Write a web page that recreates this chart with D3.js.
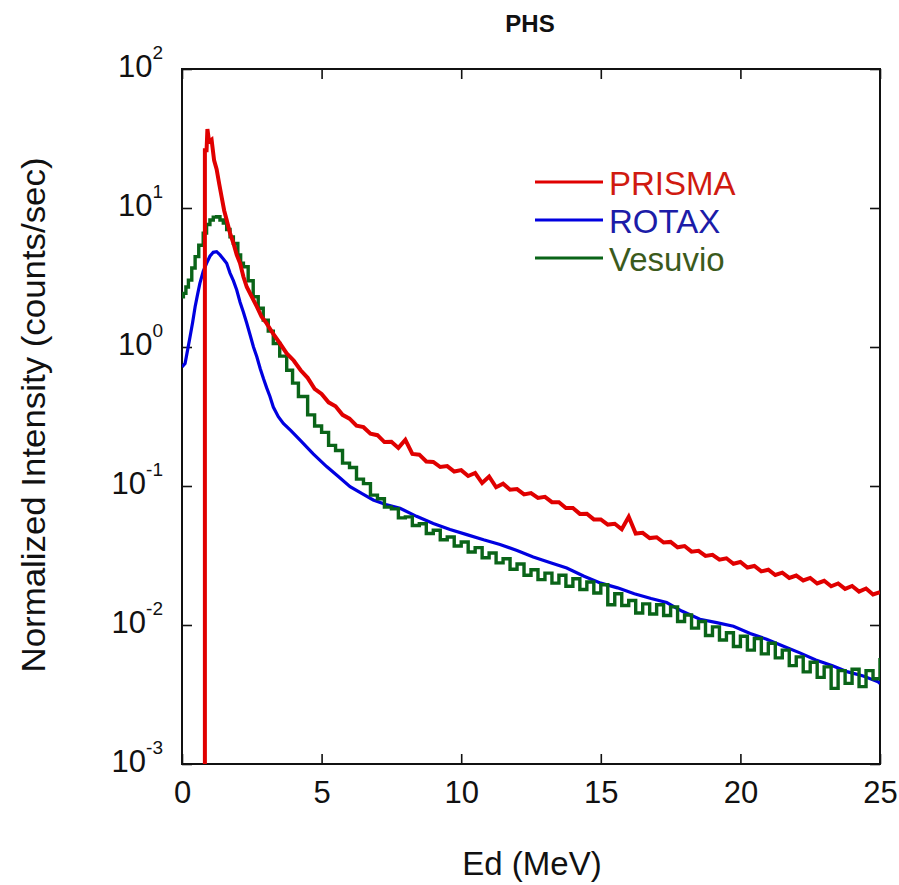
<!DOCTYPE html>
<html>
<head>
<meta charset="utf-8">
<script src="https://cdn.jsdelivr.net/npm/d3@7/dist/d3.min.js"></script>
<style>
  body { margin: 0; background: #fff; }
  text { font-family: Arial, "Liberation Sans", sans-serif; }
</style>
</head>
<body>
<div id="chart"></div>
<script>
// PRISMA (E in MeV, intensity in counts/sec), first point sits below the axis
const prisma = [
  [0.82, 0.0001], [0.82, 26], [0.88, 26], [0.91, 37], [0.97, 30], [1.06, 31], [1.15, 22],
  [1.24, 19], [1.33, 15], [1.42, 12], [1.51, 9.6], [1.6, 8.2], [1.72, 6.6], [1.84, 5.6],
  [1.96, 4.6], [2.08, 4.0], [2.2, 3.2], [2.32, 2.7], [2.5, 2.3], [2.68, 1.95], [2.85, 1.65],
  [3.03, 1.48], [3.27, 1.24], [3.51, 1.06], [3.75, 0.9], [4.0, 0.8], [4.25, 0.68],
  [4.5, 0.6], [4.75, 0.5], [5.0, 0.46], [5.25, 0.4], [5.5, 0.375], [5.75, 0.325],
  [6.0, 0.305], [6.25, 0.272], [6.5, 0.265], [6.75, 0.238], [7.0, 0.232], [7.25, 0.207],
  [7.5, 0.208], [7.75, 0.188], [8.0, 0.215], [8.25, 0.17], [8.5, 0.168], [8.75, 0.15],
  [9.0, 0.149], [9.25, 0.137], [9.5, 0.139], [9.75, 0.127], [10.0, 0.13], [10.25, 0.118],
  [10.5, 0.124], [10.75, 0.105], [11.0, 0.117], [11.25, 0.098], [11.5, 0.104], [11.75, 0.094],
  [12.0, 0.095], [12.25, 0.087], [12.5, 0.089], [12.75, 0.082], [13.0, 0.0835], [13.25, 0.0765],
  [13.5, 0.0765], [13.75, 0.0695], [14.0, 0.0695], [14.25, 0.063], [14.5, 0.0632], [14.75, 0.0575],
  [15.0, 0.0575], [15.25, 0.0528], [15.5, 0.0535], [15.75, 0.0488], [16.0, 0.06], [16.25, 0.0455],
  [16.5, 0.046], [16.75, 0.0422], [17.0, 0.0428], [17.25, 0.0392], [17.5, 0.0396], [17.75, 0.0362],
  [18.0, 0.037], [18.25, 0.0337], [18.5, 0.0342], [18.75, 0.0314], [19.0, 0.032], [19.25, 0.0295],
  [19.5, 0.0302], [19.75, 0.0276], [20.0, 0.0284], [20.25, 0.0259], [20.5, 0.0266], [20.75, 0.0243],
  [21.0, 0.025], [21.25, 0.0229], [21.5, 0.0238], [21.75, 0.0218], [22.0, 0.0227], [22.25, 0.0209],
  [22.5, 0.0218], [22.75, 0.0199], [23.0, 0.0208], [23.25, 0.019], [23.5, 0.0199], [23.75, 0.0182],
  [24.0, 0.0191], [24.25, 0.0174], [24.5, 0.0183], [24.75, 0.0166], [25.0, 0.0172]
];

const rotax = [
  [0, 0.72], [0.11, 0.76], [0.2, 0.95], [0.29, 1.19], [0.38, 1.5], [0.47, 1.95], [0.56, 2.4],
  [0.64, 2.87], [0.76, 3.5], [0.88, 4.0], [1.0, 4.5], [1.12, 4.8], [1.24, 4.85], [1.36, 4.6],
  [1.48, 4.3], [1.6, 4.0], [1.72, 3.4], [1.84, 3.0], [1.96, 2.57], [2.08, 2.1], [2.2, 1.78],
  [2.32, 1.48], [2.44, 1.22], [2.56, 1.0], [2.68, 0.85], [2.8, 0.7], [2.92, 0.59], [3.03, 0.51],
  [3.15, 0.44], [3.27, 0.37], [3.45, 0.315], [3.63, 0.282], [3.9, 0.25], [4.23, 0.214],
  [4.7, 0.17], [5.18, 0.138], [5.6, 0.117], [6.02, 0.099], [6.45, 0.088], [6.85, 0.0794],
  [7.3, 0.0735], [7.81, 0.0692], [8.4, 0.0605], [9.0, 0.0537], [9.6, 0.0487], [10.2, 0.0447],
  [10.8, 0.041], [11.39, 0.038], [12.0, 0.0343], [12.58, 0.0309], [13.2, 0.028], [13.78, 0.0257],
  [14.4, 0.0224], [15.0, 0.02], [15.6, 0.0185], [16.2, 0.0168], [16.8, 0.0155], [17.36, 0.0145],
  [17.9, 0.0126], [18.55, 0.011], [19.15, 0.0104], [19.75, 0.0098], [20.35, 0.0087], [20.94, 0.0079],
  [21.5, 0.0071], [22.13, 0.0063], [22.7, 0.0056], [23.3, 0.0051], [23.85, 0.0046], [24.4, 0.0043],
  [24.93, 0.0039], [25.0, 0.0038]
];

const vesuvio = [
  [0, 2.3], [0.05, 2.43], [0.14, 2.7], [0.23, 3.03], [0.35, 3.7], [0.47, 4.47], [0.6, 5.4],
  [0.76, 6.6], [0.88, 7.6], [1.0, 8.2], [1.12, 8.6], [1.24, 8.65], [1.36, 8.2], [1.48, 7.8],
  [1.6, 7.0], [1.72, 6.2], [1.84, 5.57], [2.0, 4.6], [2.1, 4.0], [2.2, 3.78], [2.37, 3.0],
  [2.55, 2.3], [2.73, 1.9], [2.91, 1.56], [3.09, 1.3], [3.27, 1.06], [3.5, 0.86], [3.75, 0.68],
  [3.96, 0.55], [4.17, 0.44],
  [4.5, 0.325], [4.75, 0.27], [5.0, 0.243], [5.25, 0.196], [5.5, 0.18], [5.75, 0.146],
  [6.0, 0.136], [6.25, 0.112], [6.5, 0.104], [6.75, 0.086], [7.0, 0.081], [7.25, 0.0705],
  [7.5, 0.0685], [7.75, 0.059], [8.0, 0.06], [8.25, 0.052], [8.5, 0.0535], [8.75, 0.0455],
  [9.0, 0.048], [9.25, 0.041], [9.5, 0.043], [9.75, 0.037], [10.0, 0.0395], [10.25, 0.0335],
  [10.5, 0.036], [10.75, 0.0305], [11.0, 0.033], [11.25, 0.028], [11.5, 0.03], [11.75, 0.0252],
  [12.0, 0.0275], [12.25, 0.0228], [12.5, 0.025], [12.75, 0.0212], [13.0, 0.0236], [13.25, 0.02],
  [13.5, 0.0228], [13.75, 0.019], [14.0, 0.0215], [14.25, 0.018], [14.5, 0.0204], [14.75, 0.017],
  [15.0, 0.0195], [15.25, 0.014], [15.5, 0.0168], [15.75, 0.0138], [16.0, 0.015], [16.25, 0.0122],
  [16.5, 0.0142], [16.75, 0.012], [17.0, 0.014], [17.25, 0.0117], [17.5, 0.0135], [17.75, 0.0106],
  [18.0, 0.0118], [18.25, 0.0095], [18.5, 0.0106], [18.75, 0.0084], [19.0, 0.0097], [19.25, 0.0078],
  [19.5, 0.0088], [19.75, 0.007], [20.0, 0.0083], [20.25, 0.0066], [20.5, 0.008], [20.75, 0.0062],
  [21.0, 0.0074], [21.25, 0.0058], [21.5, 0.0066], [21.75, 0.0051], [22.0, 0.0059], [22.25, 0.0046],
  [22.5, 0.0054], [22.75, 0.0042], [23.0, 0.005], [23.25, 0.0035], [23.5, 0.0047], [23.75, 0.0038],
  [24.0, 0.0048], [24.25, 0.0036], [24.5, 0.0047], [24.75, 0.0041], [25.0, 0.0058]
];

const seriesNames = ['PRISMA', 'ROTAX', 'Vesuvio'];
const lineColors = ['#e00000', '#0000e0', '#0a6418'];
const labelColors = ['#d01a10', '#1c1ca8', '#3b5a1c'];

const xTicks = [0, 5, 10, 15, 20, 25];
const yTicks = [1e-3, 1e-2, 1e-1, 1e0, 1e1, 1e2];
const yExponents = ['-3', '-2', '-1', '0', '1', '2'];

const width = 899;
const height = 885;

// plot box (pixels)
const plotLeft = 182;
const plotRight = 880;
const plotTop = 69;
const plotBottom = 764;
const tickLen = 10;

const x = d3.scaleLinear().domain([0, 25]).range([plotLeft, plotRight]);
const y = d3.scaleLog().domain([1e-3, 1e2]).range([plotBottom, plotTop]);

const svg = d3.select('#chart').append('svg')
  .attr('width', width)
  .attr('height', height);

svg.append('defs').append('clipPath')
    .attr('id', 'plot-clip')
  .append('rect')
    .attr('x', plotLeft)
    .attr('y', plotTop)
    .attr('width', plotRight - plotLeft)
    .attr('height', plotBottom - plotTop);

// axes, ticks pointing in on all four sides
const xAxisBottom = d3.axisBottom(x).tickValues(xTicks).tickSizeInner(-tickLen).tickSizeOuter(0).tickPadding(17);
const xAxisTop = d3.axisTop(x).tickValues(xTicks).tickSizeInner(-tickLen).tickSizeOuter(0).tickFormat('');
const yAxisLeft = d3.axisLeft(y).tickValues(yTicks).tickSizeInner(-tickLen).tickSizeOuter(0).tickPadding(19);
const yAxisRight = d3.axisRight(y).tickValues(yTicks).tickSizeInner(-tickLen).tickSizeOuter(0).tickFormat('');

const gx = svg.append('g')
  .attr('transform', `translate(0, ${plotBottom})`)
  .call(xAxisBottom);
gx.selectAll('text')
  .attr('font-size', 31)
  .attr('fill', '#111');

svg.append('g')
  .attr('transform', `translate(0, ${plotTop})`)
  .call(xAxisTop);

const gy = svg.append('g')
  .attr('transform', `translate(${plotLeft}, 0)`)
  .call(yAxisLeft);
gy.selectAll('text')
  .attr('font-size', 31)
  .attr('fill', '#111')
  .attr('dy', '0.24em')
  .each(function (d, i) {
    const t = d3.select(this).text(null);
    t.append('tspan').text('10');
    t.append('tspan')
      .attr('font-size', 19)
      .attr('dy', '-0.95em')
      .text(yExponents[i]);
  });

svg.append('g')
  .attr('transform', `translate(${plotRight}, 0)`)
  .call(yAxisRight);

svg.selectAll('.domain').remove();
svg.selectAll('.tick line').attr('stroke', '#111').attr('stroke-width', 1.6);

// frame
svg.append('rect')
  .attr('x', plotLeft)
  .attr('y', plotTop)
  .attr('width', plotRight - plotLeft)
  .attr('height', plotBottom - plotTop)
  .attr('fill', 'none')
  .attr('stroke', '#111')
  .attr('stroke-width', 2);

// curves
const stepLine = d3.line()
  .x(d => x(d[0]))
  .y(d => y(d[1]))
  .curve(d3.curveStepAfter);

const plainLine = d3.line()
  .x(d => x(d[0]))
  .y(d => y(d[1]));

const plot = svg.append('g').attr('clip-path', 'url(#plot-clip)');

plot.append('path')
  .datum(rotax)
  .attr('d', plainLine)
  .attr('fill', 'none')
  .attr('stroke', lineColors[1])
  .attr('stroke-width', 3.2);

plot.append('path')
  .datum(vesuvio)
  .attr('d', stepLine)
  .attr('fill', 'none')
  .attr('stroke', lineColors[2])
  .attr('stroke-width', 3.4);

plot.append('path')
  .datum(prisma)
  .attr('d', plainLine)
  .attr('fill', 'none')
  .attr('stroke', lineColors[0])
  .attr('stroke-width', 4);

// legend
const legend = svg.append('g');
seriesNames.forEach(function (name, i) {
  const ly = 182 + i * 38;
  legend.append('line')
    .attr('x1', 535)
    .attr('x2', 603)
    .attr('y1', ly)
    .attr('y2', ly)
    .attr('stroke', lineColors[i])
    .attr('stroke-width', 3.2);
  legend.append('text')
    .attr('x', 609)
    .attr('y', ly + 13)
    .attr('font-size', 33)
    .attr('fill', labelColors[i])
    .text(name);
});

// titles
svg.append('text')
  .attr('x', 530)
  .attr('y', 32)
  .attr('text-anchor', 'middle')
  .attr('font-size', 24)
  .attr('font-weight', 'bold')
  .attr('fill', '#111')
  .text('PHS');

svg.append('text')
  .attr('x', 532)
  .attr('y', 875)
  .attr('text-anchor', 'middle')
  .attr('font-size', 33)
  .attr('fill', '#111')
  .text('Ed (MeV)');

svg.append('text')
  .attr('transform', 'translate(45, 415) rotate(-90)')
  .attr('text-anchor', 'middle')
  .attr('font-size', 33)
  .attr('textLength', 515)
  .attr('lengthAdjust', 'spacingAndGlyphs')
  .attr('fill', '#111')
  .text('Normalized Intensity (counts/sec)');
</script>
</body>
</html>
